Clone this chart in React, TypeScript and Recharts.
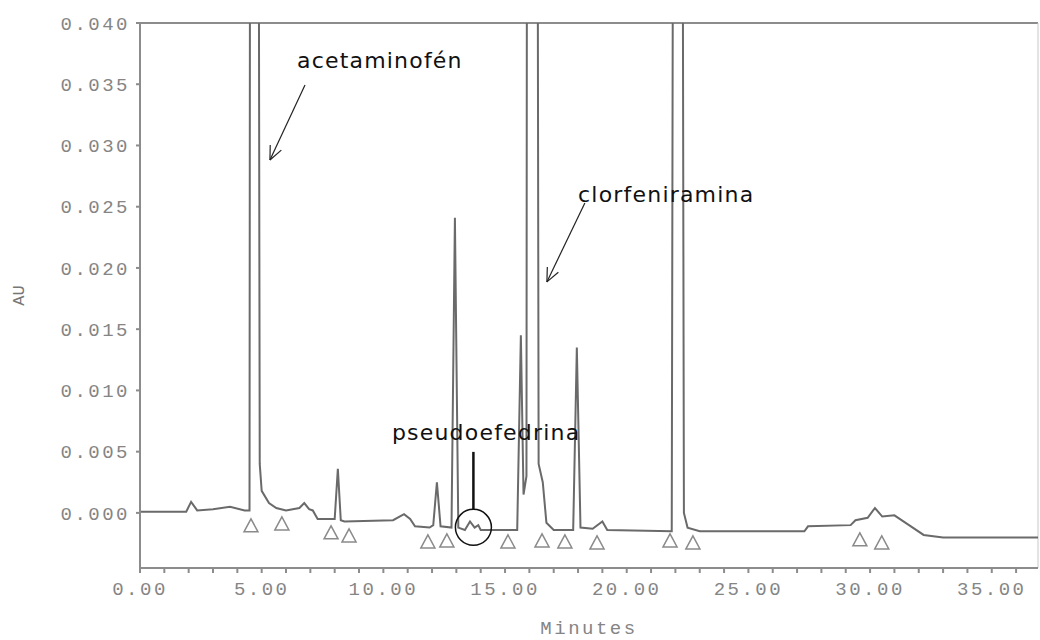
import React from 'react';
import {
  ComposedChart,
  Line,
  Scatter,
  XAxis,
  YAxis,
  ReferenceLine,
  ReferenceDot,
} from 'recharts';

// ---- chromatogram trace: retention time (min) vs absorbance (AU) ----
const times: number[] = [
  0, 1.6, 1.9, 2.1, 2.35, 3.0, 3.7, 4.3, 4.5, 4.52, 4.7, 4.88, 4.92, 5.0, 5.3, 5.6, 6.0,
  6.55, 6.75, 6.95, 7.1, 7.3, 8.0, 8.13, 8.25, 8.4, 10.4, 10.85, 11.1, 11.3, 11.9, 12.05,
  12.2, 12.35, 12.8, 12.94, 13.08, 13.35, 13.56, 13.75, 13.9, 14.0, 15.5, 15.65, 15.76,
  15.88, 15.9, 16.12, 16.34, 16.38, 16.55, 16.7, 17.0, 17.8, 17.95, 18.1, 18.6, 19.0,
  19.2, 21.85, 21.9, 22.1, 22.3, 22.35, 22.5, 23.0, 27.3, 27.45, 29.2, 29.4, 29.9, 30.2,
  30.5, 31.0, 31.6, 32.2, 33.0, 36.9,
];
const absorbance: number[] = [
  0.0001, 0.0001, 0.0001, 0.0009, 0.0002, 0.0003, 0.0005, 0.0002, 0.0002, 0.05, 0.5, 0.05,
  0.004, 0.0018, 0.0008, 0.0004, 0.0002, 0.0004, 0.0008, 0.0003, 0.0002, -0.0005, -0.0005,
  0.0036, -0.0006, -0.0007, -0.0006, -0.0001, -0.0005, -0.0011, -0.0012, -0.001, 0.0025,
  -0.0011, -0.0012, 0.0241, -0.0012, -0.0014, -0.0007, -0.0012, -0.001, -0.0014, -0.0014,
  0.0145, 0.0015, 0.003, 0.05, 0.5, 0.05, 0.004, 0.0025, -0.0008, -0.0014, -0.0014, 0.0135,
  -0.0012, -0.0013, -0.0007, -0.0014, -0.0015, 0.05, 0.5, 0.05, 0.0, -0.0012, -0.0015,
  -0.0015, -0.0011, -0.001, -0.0006, -0.0004, 0.0004, -0.0003, -0.0002, -0.001, -0.0018,
  -0.002, -0.002,
];

// integration markers (peak start / end events)
const markerTimes: number[] = [4.56, 5.83, 7.85, 8.59, 11.83, 12.61, 15.12, 16.52, 17.46, 18.78, 21.78, 22.72, 29.58, 30.48];
const markerLevels: number[] = [-0.00106, -0.0009, -0.00163, -0.00188, -0.00237, -0.00229, -0.00237, -0.00229, -0.00237, -0.00245, -0.00229, -0.00245, -0.0022, -0.00245];

// axis ticks
const xTicks: number[] = Array.from({ length: 37 }, (_, i) => i);
const yTicks: number[] = [0, 0.005, 0.01, 0.015, 0.02, 0.025, 0.03, 0.035, 0.04];
const X_MAX = 36.9;
const Y_MIN = -0.0045;
const Y_MAX = 0.04;

// annotations (data coordinates)
const annotationLabels: string[] = ['acetaminofén', 'clorfeniramina', 'pseudoefedrina'];
const annotationTimes: number[] = [6.45, 18.0, 10.35];
const annotationLevels: number[] = [0.03633, 0.02539, 0.00596];
const arrowStarts: [number, number][] = [[6.78, 0.03494], [18.28, 0.02531]];
const arrowEnds: [number, number][] = [[5.34, 0.02882], [16.72, 0.01886]];
const pointerTime = 13.7;
const pointerLevels: [number, number] = [0.00498, 0.000245];
const circleCenter: [number, number] = [13.7, -0.00118];

const traceData = times.map((t, i) => ({ t, v: absorbance[i] }));
const markerData = markerTimes.map((t, i) => ({ t, v: markerLevels[i] }));

const MONO = '"Liberation Mono", "DejaVu Sans Mono", monospace';
const HAND = '"DejaVu Sans", "Noto Sans", sans-serif';
const AXIS_GRAY = '#8c8c8c';
const TEXT_GRAY = '#858585';

const tickStyle = { fill: TEXT_GRAY, fontSize: 19, fontFamily: MONO, letterSpacing: 2.5 };

const Triangle = (props: any) => {
  const { cx, cy } = props;
  if (cx == null || cy == null) return null;
  return (
    <polygon
      points={`${cx - 7},${cy + 6} ${cx},${cy - 7} ${cx + 7},${cy + 6}`}
      fill="none"
      stroke="#8a8a8a"
      strokeWidth={1.5}
    />
  );
};

const Arrow = (props: any) => {
  const { x1, y1, x2, y2 } = props;
  const ang = Math.atan2(y2 - y1, x2 - x1);
  const len = 15;
  const spread = 0.42;
  const b1x = x2 - len * Math.cos(ang - spread);
  const b1y = y2 - len * Math.sin(ang - spread);
  const b2x = x2 - len * Math.cos(ang + spread);
  const b2y = y2 - len * Math.sin(ang + spread);
  return (
    <g>
      <line x1={x1} y1={y1} x2={x2} y2={y2} stroke="#222" strokeWidth={1.2} />
      <line x1={x2} y1={y2} x2={b1x} y2={b1y} stroke="#222" strokeWidth={1.2} />
      <line x1={x2} y1={y2} x2={b2x} y2={b2y} stroke="#222" strokeWidth={1.2} />
    </g>
  );
};

const makeTextShape = (label: string) => (props: any) => (
  <text
    x={props.cx}
    y={props.cy}
    fontFamily={HAND}
    fontSize={22}
    letterSpacing={1.2}
    fill="#111"
    textAnchor="start"
  >
    {label}
  </text>
);

const AULabel = (props: any) => {
  const vb = props.viewBox || { x: 0, y: 0, width: 0, height: 0 };
  const cx = vb.x + 19;
  const cy = vb.y + vb.height / 2;
  return (
    <text
      x={cx}
      y={cy}
      transform={`rotate(-90 ${cx} ${cy})`}
      textAnchor="middle"
      dominantBaseline="central"
      fontFamily={MONO}
      fontSize={17}
      fill="#777"
    >
      AU
    </text>
  );
};

export default function App() {
  return (
    <div style={{ position: 'absolute', left: 0, top: 0, background: '#fff' }}>
      <ComposedChart
        width={1040}
        height={640}
        margin={{ top: 23, right: 2, bottom: 0, left: 0 }}
      >
        <XAxis
          type="number"
          dataKey="t"
          domain={[0, X_MAX]}
          allowDataOverflow
          ticks={xTicks}
          interval={0}
          tickFormatter={(v: number) => (v % 5 === 0 ? v.toFixed(2) : '')}
          tick={tickStyle}
          tickSize={5}
          tickMargin={9}
          stroke={AXIS_GRAY}
          strokeWidth={2}
          height={72}
          label={{
            value: 'Minutes',
            position: 'insideBottom',
            offset: 6,
            fill: TEXT_GRAY,
            fontSize: 19,
            fontFamily: MONO,
            letterSpacing: 2.5,
          }}
        />
        <YAxis
          type="number"
          domain={[Y_MIN, Y_MAX]}
          allowDataOverflow
          ticks={yTicks}
          interval={0}
          tickFormatter={(v: number) => v.toFixed(3)}
          tick={tickStyle}
          tickSize={4}
          tickMargin={6}
          stroke={AXIS_GRAY}
          strokeWidth={2}
          width={140}
          label={<AULabel />}
        />
        <ReferenceLine y={Y_MAX} stroke={AXIS_GRAY} strokeWidth={2} />
        <ReferenceLine x={X_MAX} stroke="#c8c8c8" strokeWidth={1} />
        <Line
          data={traceData}
          dataKey="v"
          type="linear"
          stroke="#6a6a6a"
          strokeWidth={2}
          dot={false}
          activeDot={false}
          isAnimationActive={false}
        />
        <Scatter
          data={markerData}
          dataKey="v"
          shape={<Triangle />}
          isAnimationActive={false}
        />
        {arrowStarts.map((s, i) => (
          <ReferenceLine
            key={`arrow-${i}`}
            segment={[
              { x: s[0], y: s[1] },
              { x: arrowEnds[i][0], y: arrowEnds[i][1] },
            ]}
            ifOverflow="visible"
            shape={Arrow}
          />
        ))}
        <ReferenceLine
          segment={[
            { x: pointerTime, y: pointerLevels[0] },
            { x: pointerTime, y: pointerLevels[1] },
          ]}
          stroke="#111"
          strokeWidth={2.5}
          ifOverflow="visible"
        />
        <ReferenceDot
          x={circleCenter[0]}
          y={circleCenter[1]}
          r={18}
          fill="none"
          stroke="#111"
          strokeWidth={1.5}
          ifOverflow="visible"
        />
        {annotationLabels.map((lab, i) => (
          <ReferenceDot
            key={lab}
            x={annotationTimes[i]}
            y={annotationLevels[i]}
            r={1}
            ifOverflow="visible"
            shape={makeTextShape(lab)}
          />
        ))}
      </ComposedChart>
    </div>
  );
}
